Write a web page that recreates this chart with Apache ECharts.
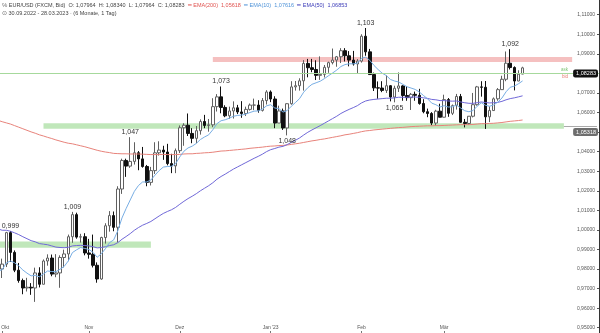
<!DOCTYPE html>
<html>
<head>
<meta charset="utf-8">
<script src="https://cdn.jsdelivr.net/npm/echarts@6/dist/echarts.min.js"></script>
<style>
  html, body { margin: 0; padding: 0; background: #fff; }
  #chart { width: 600px; height: 333px; }
</style>
</head>
<body>
<div id="chart"></div>
<script>
// EUR/USD daily candles, 30.09.2022 - 28.03.2023 (FXCM, Bid)
const dates = [
  '30.09.2022',
  '03.10.2022','04.10.2022','05.10.2022','06.10.2022','07.10.2022','10.10.2022','11.10.2022','12.10.2022','13.10.2022','14.10.2022',
  '17.10.2022','18.10.2022','19.10.2022','20.10.2022','21.10.2022','24.10.2022','25.10.2022','26.10.2022','27.10.2022','28.10.2022','31.10.2022',
  '01.11.2022','02.11.2022','03.11.2022','04.11.2022','07.11.2022','08.11.2022','09.11.2022','10.11.2022','11.11.2022','14.11.2022',
  '15.11.2022','16.11.2022','17.11.2022','18.11.2022','21.11.2022','22.11.2022','23.11.2022','24.11.2022','25.11.2022','28.11.2022','29.11.2022','30.11.2022',
  '01.12.2022','02.12.2022','05.12.2022','06.12.2022','07.12.2022','08.12.2022','09.12.2022','12.12.2022','13.12.2022','14.12.2022',
  '15.12.2022','16.12.2022','19.12.2022','20.12.2022','21.12.2022','22.12.2022','23.12.2022','26.12.2022','27.12.2022','28.12.2022','29.12.2022','30.12.2022',
  '02.01.2023','03.01.2023','04.01.2023','05.01.2023','06.01.2023','09.01.2023','10.01.2023','11.01.2023','12.01.2023','13.01.2023',
  '16.01.2023','17.01.2023','18.01.2023','19.01.2023','20.01.2023','23.01.2023','24.01.2023','25.01.2023','26.01.2023','27.01.2023','30.01.2023','31.01.2023',
  '01.02.2023','02.02.2023','03.02.2023','06.02.2023','07.02.2023','08.02.2023','09.02.2023','10.02.2023','13.02.2023','14.02.2023',
  '15.02.2023','16.02.2023','17.02.2023','20.02.2023','21.02.2023','22.02.2023','23.02.2023','24.02.2023','27.02.2023','28.02.2023',
  '01.03.2023','02.03.2023','03.03.2023','06.03.2023','07.03.2023','08.03.2023','09.03.2023','10.03.2023','13.03.2023','14.03.2023',
  '15.03.2023','16.03.2023','17.03.2023','20.03.2023','21.03.2023','22.03.2023','23.03.2023','24.03.2023','27.03.2023','28.03.2023'
];

const opens = [
  0.9815, 0.9800, 0.9825, 0.9986, 0.9885, 0.9794, 0.9741, 0.9703, 0.9707, 0.9703,
  0.9780, 0.9722, 0.9841, 0.9856, 0.9774, 0.9780, 0.9859, 0.9877, 0.9965, 1.0078,
  0.9963, 0.9965, 0.9882, 0.9875, 0.9819, 0.9749, 0.9961, 1.0021, 1.0073, 1.0013,
  1.0209, 1.0355, 1.0326, 1.0350, 1.0394, 1.0363, 1.0324, 1.0243, 1.0303, 1.0394,
  1.0408, 1.0398, 1.0339, 1.0327, 1.0405, 1.0522, 1.0535, 1.0493, 1.0468, 1.0507,
  1.0554, 1.0534, 1.0537, 1.0630, 1.0680, 1.0626, 1.0583, 1.0608, 1.0624, 1.0603,
  1.0595, 1.0616, 1.0638, 1.0638, 1.0611, 1.0661, 1.0705, 1.0669, 1.0546, 1.0608,
  1.0521, 1.0645, 1.0731, 1.0737, 1.0762, 1.0851, 1.0829, 1.0820, 1.0790, 1.0795,
  1.0831, 1.0855, 1.0868, 1.0885, 1.0916, 1.0890, 1.0868, 1.0848, 1.0863, 1.0990,
  1.0910, 1.0794, 1.0726, 1.0725, 1.0713, 1.0737, 1.0679, 1.0724, 1.0736, 1.0687,
  1.0676, 1.0693, 1.0688, 1.0646, 1.0604, 1.0595, 1.0546, 1.0607, 1.0576, 1.0666,
  1.0596, 1.0635, 1.0682, 1.0550, 1.0544, 1.0581, 1.0640, 1.0731, 1.0729, 1.0578,
  1.0610, 1.0670, 1.0717, 1.0770, 1.0852, 1.0830, 1.0761, 1.07964
];
const highs = [
  0.9854, 0.9853, 0.9990, 0.9994, 0.9895, 0.9831, 0.9751, 0.9755, 0.9728, 0.9807,
  0.9809, 0.9849, 0.9875, 0.9874, 0.9876, 0.9870, 0.9899, 0.9976, 1.0092, 1.0088,
  0.9980, 0.9983, 0.9954, 0.9976, 0.9834, 0.9965, 1.0034, 1.0096, 1.0094, 1.0223,
  1.0364, 1.0364, 1.0474, 1.0448, 1.0403, 1.0424, 1.0332, 1.0322, 1.0448, 1.0453,
  1.0430, 1.0440, 1.0389, 1.0416, 1.0534, 1.0545, 1.0595, 1.0520, 1.0531, 1.0565,
  1.0588, 1.0567, 1.0673, 1.0694, 1.0733, 1.0637, 1.0630, 1.0657, 1.0639, 1.0658,
  1.0630, 1.0646, 1.0671, 1.0663, 1.0674, 1.0714, 1.0713, 1.0683, 1.0635, 1.0620,
  1.0647, 1.0760, 1.0761, 1.0775, 1.0868, 1.0874, 1.0874, 1.0867, 1.0887, 1.0843,
  1.0860, 1.0927, 1.0889, 1.0929, 1.0929, 1.0914, 1.0915, 1.0873, 1.1000, 1.1032,
  1.0925, 1.0804, 1.0759, 1.0760, 1.0790, 1.0740, 1.0737, 1.0805, 1.0740, 1.0735,
  1.0700, 1.0707, 1.0721, 1.0668, 1.0620, 1.0602, 1.0614, 1.0645, 1.0691, 1.0674,
  1.0641, 1.0695, 1.0695, 1.0567, 1.0582, 1.0700, 1.0736, 1.0760, 1.0761, 1.0631,
  1.0677, 1.0725, 1.0788, 1.0912, 1.0924, 1.0836, 1.0816, 1.08340
];
const lows = [
  0.9737, 0.9754, 0.9810, 0.9836, 0.9784, 0.9730, 0.9671, 0.9685, 0.9668, 0.9632,
  0.9706, 0.9722, 0.9817, 0.9763, 0.9758, 0.9704, 0.9808, 0.9840, 0.9934, 0.9955,
  0.9935, 0.9870, 0.9853, 0.9808, 0.9730, 0.9745, 0.9930, 0.9991, 0.9993, 0.9936,
  1.0184, 1.0271, 1.0317, 1.0334, 1.0305, 1.0318, 1.0223, 1.0227, 1.0286, 1.0380,
  1.0358, 1.0330, 1.0290, 1.0290, 1.0393, 1.0430, 1.0480, 1.0443, 1.0443, 1.0487,
  1.0520, 1.0502, 1.0525, 1.0605, 1.0596, 1.0576, 1.0568, 1.0569, 1.0592, 1.0573,
  1.0582, 1.0610, 1.0612, 1.0599, 1.0605, 1.0641, 1.0653, 1.0520, 1.0546, 1.0511,
  1.0483, 1.0640, 1.0712, 1.0712, 1.0712, 1.0780, 1.0806, 1.0766, 1.0767, 1.0779,
  1.0803, 1.0846, 1.0834, 1.0853, 1.0861, 1.0836, 1.0840, 1.0800, 1.0855, 1.0890,
  1.0792, 1.0710, 1.0670, 1.0704, 1.0700, 1.0657, 1.0652, 1.0705, 1.0660, 1.0660,
  1.0613, 1.0660, 1.0640, 1.0596, 1.0576, 1.0535, 1.0533, 1.0575, 1.0575, 1.0578,
  1.0587, 1.0615, 1.0548, 1.0524, 1.0537, 1.0575, 1.0635, 1.0681, 1.0516, 1.0551,
  1.0610, 1.0660, 1.0717, 1.0760, 1.0820, 1.0713, 1.0760, 1.07964
];
const closes = [
  0.9802, 0.9825, 0.9986, 0.9885, 0.9794, 0.9741, 0.9703, 0.9707, 0.9703, 0.9780,
  0.9722, 0.9841, 0.9856, 0.9774, 0.9780, 0.9859, 0.9877, 0.9965, 1.0078, 0.9963,
  0.9965, 0.9882, 0.9875, 0.9819, 0.9749, 0.9961, 1.0021, 1.0073, 1.0013, 1.0209,
  1.0355, 1.0326, 1.0350, 1.0394, 1.0363, 1.0324, 1.0243, 1.0303, 1.0394, 1.0408,
  1.0398, 1.0339, 1.0327, 1.0405, 1.0522, 1.0535, 1.0493, 1.0468, 1.0507, 1.0554,
  1.0534, 1.0537, 1.0630, 1.0680, 1.0626, 1.0583, 1.0608, 1.0624, 1.0603, 1.0595,
  1.0616, 1.0638, 1.0638, 1.0611, 1.0661, 1.0705, 1.0669, 1.0546, 1.0608, 1.0521,
  1.0645, 1.0731, 1.0737, 1.0762, 1.0851, 1.0829, 1.0820, 1.0790, 1.0795, 1.0831,
  1.0855, 1.0868, 1.0885, 1.0916, 1.0890, 1.0868, 1.0848, 1.0863, 1.0990, 1.0910,
  1.0794, 1.0726, 1.0725, 1.0713, 1.0737, 1.0679, 1.0724, 1.0736, 1.0687, 1.0676,
  1.0693, 1.0688, 1.0646, 1.0604, 1.0595, 1.0546, 1.0607, 1.0576, 1.0666, 1.0596,
  1.0635, 1.0682, 1.0550, 1.0544, 1.0581, 1.0640, 1.0731, 1.0729, 1.0578, 1.0610,
  1.0670, 1.0717, 1.0770, 1.0852, 1.0830, 1.0761, 1.0796, 1.08283
];

// Moving averages as plotted (per bar)
const ema10 = [
  0.9790, 0.9796, 0.9831, 0.9841, 0.9832, 0.9816, 0.9795, 0.9779, 0.9765, 0.9768,
  0.9760, 0.9775, 0.9790, 0.9787, 0.9786, 0.9799, 0.9813, 0.9841, 0.9884, 0.9898,
  0.9910, 0.9905, 0.9900, 0.9885, 0.9860, 0.9878, 0.9904, 0.9935, 0.9949, 0.9996,
  1.0061, 1.0109, 1.0153, 1.0197, 1.0227, 1.0245, 1.0245, 1.0255, 1.0280, 1.0303,
  1.0321, 1.0324, 1.0325, 1.0339, 1.0373, 1.0402, 1.0419, 1.0428, 1.0442, 1.0462,
  1.0475, 1.0486, 1.0512, 1.0543, 1.0558, 1.0563, 1.0571, 1.0581, 1.0585, 1.0587,
  1.0592, 1.0600, 1.0607, 1.0608, 1.0618, 1.0634, 1.0640, 1.0623, 1.0620, 1.0602,
  1.0610, 1.0632, 1.0651, 1.0671, 1.0704, 1.0727, 1.0744, 1.0752, 1.0760, 1.0773,
  1.0788, 1.0802, 1.0817, 1.0835, 1.0845, 1.0849, 1.0849, 1.0852, 1.0877, 1.0883,
  1.0867, 1.0841, 1.0820, 1.0801, 1.0789, 1.0769, 1.0761, 1.0756, 1.0744, 1.0732,
  1.0725, 1.0718, 1.0705, 1.0687, 1.0670, 1.0648, 1.0640, 1.0628, 1.0635, 1.0628,
  1.0629, 1.0639, 1.0623, 1.0609, 1.0604, 1.0610, 1.0632, 1.0650, 1.0637, 1.0632,
  1.0639, 1.0653, 1.0674, 1.0706, 1.0729, 1.0735, 1.0747, 1.07616
];
const ema50 = [
  1.0005, 0.9998, 0.9998, 0.9993, 0.9985, 0.9976, 0.9965, 0.9955, 0.9945, 0.9939,
  0.9930, 0.9927, 0.9924, 0.9918, 0.9912, 0.9910, 0.9909, 0.9911, 0.9918, 0.9920,
  0.9921, 0.9920, 0.9918, 0.9914, 0.9908, 0.9910, 0.9914, 0.9920, 0.9924, 0.9935,
  0.9952, 0.9966, 0.9981, 0.9998, 1.0012, 1.0024, 1.0033, 1.0043, 1.0057, 1.0071,
  1.0084, 1.0094, 1.0103, 1.0115, 1.0131, 1.0146, 1.0160, 1.0172, 1.0185, 1.0200,
  1.0213, 1.0226, 1.0241, 1.0259, 1.0273, 1.0285, 1.0298, 1.0311, 1.0322, 1.0333,
  1.0344, 1.0355, 1.0366, 1.0376, 1.0387, 1.0400, 1.0410, 1.0416, 1.0423, 1.0427,
  1.0436, 1.0447, 1.0458, 1.0470, 1.0485, 1.0499, 1.0511, 1.0522, 1.0533, 1.0545,
  1.0557, 1.0569, 1.0581, 1.0595, 1.0606, 1.0616, 1.0625, 1.0635, 1.0649, 1.0659,
  1.0664, 1.0667, 1.0669, 1.0671, 1.0673, 1.0673, 1.0675, 1.0678, 1.0678, 1.0678,
  1.0679, 1.0679, 1.0678, 1.0675, 1.0672, 1.0667, 1.0665, 1.0661, 1.0661, 1.0659,
  1.0658, 1.0659, 1.0654, 1.0650, 1.0647, 1.0647, 1.0650, 1.0654, 1.0651, 1.0649,
  1.0650, 1.0652, 1.0657, 1.0665, 1.0671, 1.0675, 1.0680, 1.06853
];
const ema200 = [
  1.0560, 1.0553, 1.0547, 1.0541, 1.0533, 1.0525, 1.0517, 1.0509, 1.0501, 1.0494,
  1.0486, 1.0480, 1.0473, 1.0467, 1.0460, 1.0454, 1.0448, 1.0443, 1.0440, 1.0435,
  1.0430, 1.0425, 1.0419, 1.0413, 1.0407, 1.0402, 1.0398, 1.0395, 1.0391, 1.0390,
  1.0389, 1.0389, 1.0388, 1.0388, 1.0388, 1.0387, 1.0386, 1.0385, 1.0385, 1.0385,
  1.0386, 1.0385, 1.0385, 1.0385, 1.0386, 1.0388, 1.0389, 1.0389, 1.0391, 1.0392,
  1.0394, 1.0395, 1.0397, 1.0400, 1.0403, 1.0404, 1.0406, 1.0408, 1.0410, 1.0412,
  1.0414, 1.0417, 1.0419, 1.0421, 1.0423, 1.0426, 1.0428, 1.0429, 1.0431, 1.0432,
  1.0434, 1.0437, 1.0440, 1.0443, 1.0447, 1.0451, 1.0455, 1.0458, 1.0462, 1.0465,
  1.0469, 1.0473, 1.0477, 1.0481, 1.0486, 1.0489, 1.0493, 1.0497, 1.0502, 1.0506,
  1.0508, 1.0511, 1.0513, 1.0515, 1.0517, 1.0519, 1.0521, 1.0523, 1.0524, 1.0526,
  1.0528, 1.0529, 1.0530, 1.0531, 1.0532, 1.0532, 1.0533, 1.0533, 1.0534, 1.0535,
  1.0536, 1.0537, 1.0538, 1.0538, 1.0538, 1.0539, 1.0541, 1.0543, 1.0543, 1.0544,
  1.0545, 1.0547, 1.0549, 1.0552, 1.0555, 1.0557, 1.0559, 1.05618
];

// Swing highs / lows that carry a price note
const peakIdx = [3, 18, 32, 54, 89, 124];
const troughIdx = [70, 96];

// Support / resistance zones (bar index range and price range)
const zoneFrom = [0, 11, 52];
const zoneTo = [37, 137, 139];
const zoneLow = [0.9909, 1.0517, 1.0858];
const zoneHigh = [0.9940, 1.0545, 1.0884];
const zoneKind = ['support', 'support', 'resistance'];
const supportLevel = 1.05318;

const monthNames = ['Jan', 'Feb', 'Mär', 'Apr', 'Mai', 'Jun', 'Jul', 'Aug', 'Sep', 'Okt', 'Nov', 'Dez'];
const emptySlots = 18;

// ---- derived structures ----
const fmt5 = v => v.toFixed(5).replace('.', ',');
const fmt3 = v => v.toFixed(3).replace('.', ',');
const categories = dates.concat(new Array(emptySlots).fill(''));
const candles = dates.map((d, i) => [opens[i], closes[i], lows[i], highs[i]]);

const monthLabel = {};
dates.forEach((d, i) => {
  if (i === 0) return;
  const m = d.slice(3, 5), pm = dates[i - 1].slice(3, 5);
  if (m !== pm) {
    const mi = parseInt(m, 10) - 1;
    monthLabel[i] = mi === 0 ? monthNames[0] + " '" + d.slice(8, 10) : monthNames[mi];
  }
});
const firstMonthIdx = Math.min(...Object.keys(monthLabel).map(Number));
const isMonthStart = i => monthLabel[i] !== undefined;

const last = dates.length - 1;
const zoneColor = { support: 'rgba(150, 215, 140, 0.6)', resistance: 'rgba(238, 150, 150, 0.6)' };
const zones = zoneFrom.map((f, k) => [
  { xAxis: f, yAxis: zoneHigh[k], itemStyle: { color: zoneColor[zoneKind[k]] } },
  { xAxis: zoneTo[k], yAxis: zoneLow[k] }
]);

const notes = peakIdx.map(i => ({ coord: [i, highs[i]], value: highs[i], label: { position: 'top', distance: 1 } }))
  .concat(troughIdx.map(i => ({ coord: [i, lows[i]], value: lows[i], label: { position: 'bottom', distance: 2 } })));

const font = "'Liberation Sans', Arial, Helvetica, sans-serif";
const legendText =
  '{ic|℅} {t|' + 'EUR/USD (FXCM, Bid)  O: ' + fmt5(opens[last]) + '  H: ' + fmt5(highs[last]) +
  '  L: ' + fmt5(lows[last]) + '  C: ' + fmt5(closes[last]) + '}' +
  '  {r|━ EMA(200)  ' + fmt5(ema200[last]) + '}' +
  '  {b|━ EMA(10)  ' + fmt5(ema10[last]) + '}' +
  '  {p|━ EMA(50)  ' + fmt5(ema50[last]) + '}\n' +
  '{ic|⊙} {t|' + dates[0] + ' - ' + dates[last] + ' · (6 Monate, 1 Tag)}';

const hidden = { color: 'rgba(0,0,0,0)', width: 0 };
const tag = (text, bg) => ({
  show: true, position: 'insideEnd', distance: [1, 0], formatter: text,
  color: '#fff', backgroundColor: bg, padding: [1, 2, 1, 3], borderRadius: 2, fontSize: 5.5, fontFamily: font
});

const chart = echarts.init(document.getElementById('chart'), null, { renderer: 'canvas' });
chart.setOption({
  animation: false,
  backgroundColor: '#fff',
  textStyle: { fontFamily: font },
  title: {
    left: 2, top: 1, padding: 0,
    text: legendText,
    textStyle: {
      fontFamily: font, fontSize: 5.5, lineHeight: 8, fontWeight: 'normal',
      rich: {
        ic: { fontSize: 6, color: '#666', lineHeight: 8 },
        t: { fontSize: 5.5, color: '#444', lineHeight: 8 },
        r: { fontSize: 5.5, color: '#e0524f', lineHeight: 8 },
        b: { fontSize: 5.5, color: '#4f93d8', lineHeight: 8 },
        p: { fontSize: 5.5, color: '#3b3bb8', lineHeight: 8 }
      }
    }
  },
  grid: { left: -4, right: 1, top: -4.86, bottom: -14.26, containLabel: false, outerBoundsMode: 'none' },
  xAxis: {
    type: 'category',
    data: categories,
    boundaryGap: true,
    offset: -14.26,
    axisLine: { show: false },
    axisTick: { show: true, inside: true, length: 2, alignWithLabel: true, interval: isMonthStart, lineStyle: { color: '#777' } },
    axisLabel: {
      inside: true, margin: 3, interval: isMonthStart, fontSize: 5, color: '#555', fontFamily: font,
      formatter: (v, i) => i === firstMonthIdx ? '{f|' + monthLabel[i] + '}' : (monthLabel[i] || ''),
      rich: { f: { fontSize: 5, color: '#555', padding: [0, 0, 0, 6] } }
    },
    splitLine: { show: false }
  },
  yAxis: {
    type: 'value',
    position: 'right',
    min: 0.94, max: 1.12, interval: 0.01,
    axisLine: { show: true, lineStyle: { color: '#333', width: 1 } },
    axisTick: { show: true, inside: true, length: 2, lineStyle: { color: '#555' } },
    axisLabel: { inside: true, margin: 4, fontSize: 5, color: '#555', fontFamily: font, formatter: v => fmt5(v) },
    splitLine: { show: false }
  },
  series: [
    {
      name: 'zones', type: 'line', data: [], z: 1, silent: true,
      markArea: { silent: true, data: zones }
    },
    {
      name: 'EUR/USD', type: 'candlestick', data: candles, barWidth: 3, z: 3,
      itemStyle: { color: '#ffffff', color0: '#111111', borderColor: '#606060', borderColor0: '#111111', borderWidth: 1 },
      markPoint: {
        symbol: 'circle', symbolSize: 1, silent: true,
        itemStyle: { color: 'rgba(0,0,0,0)' },
        label: { show: true, fontSize: 7, color: '#333', fontFamily: font, formatter: p => fmt3(p.value) },
        data: notes
      }
    },
    {
      name: 'EMA(200)', type: 'line', data: ema200, z: 4, symbol: 'none', silent: true,
      lineStyle: { color: '#e8837b', width: 1 }
    },
    {
      name: 'EMA(50)', type: 'line', data: ema50, z: 4, symbol: 'none', silent: true,
      lineStyle: { color: '#7068d8', width: 1 }
    },
    {
      name: 'EMA(10)', type: 'line', data: ema10, z: 4, symbol: 'none', silent: true,
      lineStyle: { color: '#78aee4', width: 1 }
    },
    {
      name: 'levels', type: 'line', data: [], z: 6, silent: true,
      markLine: {
        symbol: ['none', 'none'], silent: true, animation: false,
        data: [
          { yAxis: closes[last], lineStyle: { color: '#a6d99c', width: 1, type: 'solid' },
            label: { show: true, position: 'insideEndTop', distance: [31, 1], formatter: 'ask', color: '#7cc474', fontSize: 4.5 } },
          { yAxis: closes[last], lineStyle: hidden,
            label: { show: true, position: 'insideEndBottom', distance: [31, 1], formatter: 'bid', color: '#e77a74', fontSize: 4.5 } },
          { yAxis: closes[last], lineStyle: hidden, label: tag(fmt5(closes[last]), '#111') },
          [ { coord: [zoneTo[1], supportLevel], lineStyle: { color: '#aaaaaa', width: 1, type: 'solid' }, label: { show: false } },
            { coord: [categories.length - 1, supportLevel] } ],
          { yAxis: supportLevel, lineStyle: hidden, label: tag(fmt5(supportLevel), '#6e6e6e') }
        ]
      }
    }
  ]
});
</script>
</body>
</html>
